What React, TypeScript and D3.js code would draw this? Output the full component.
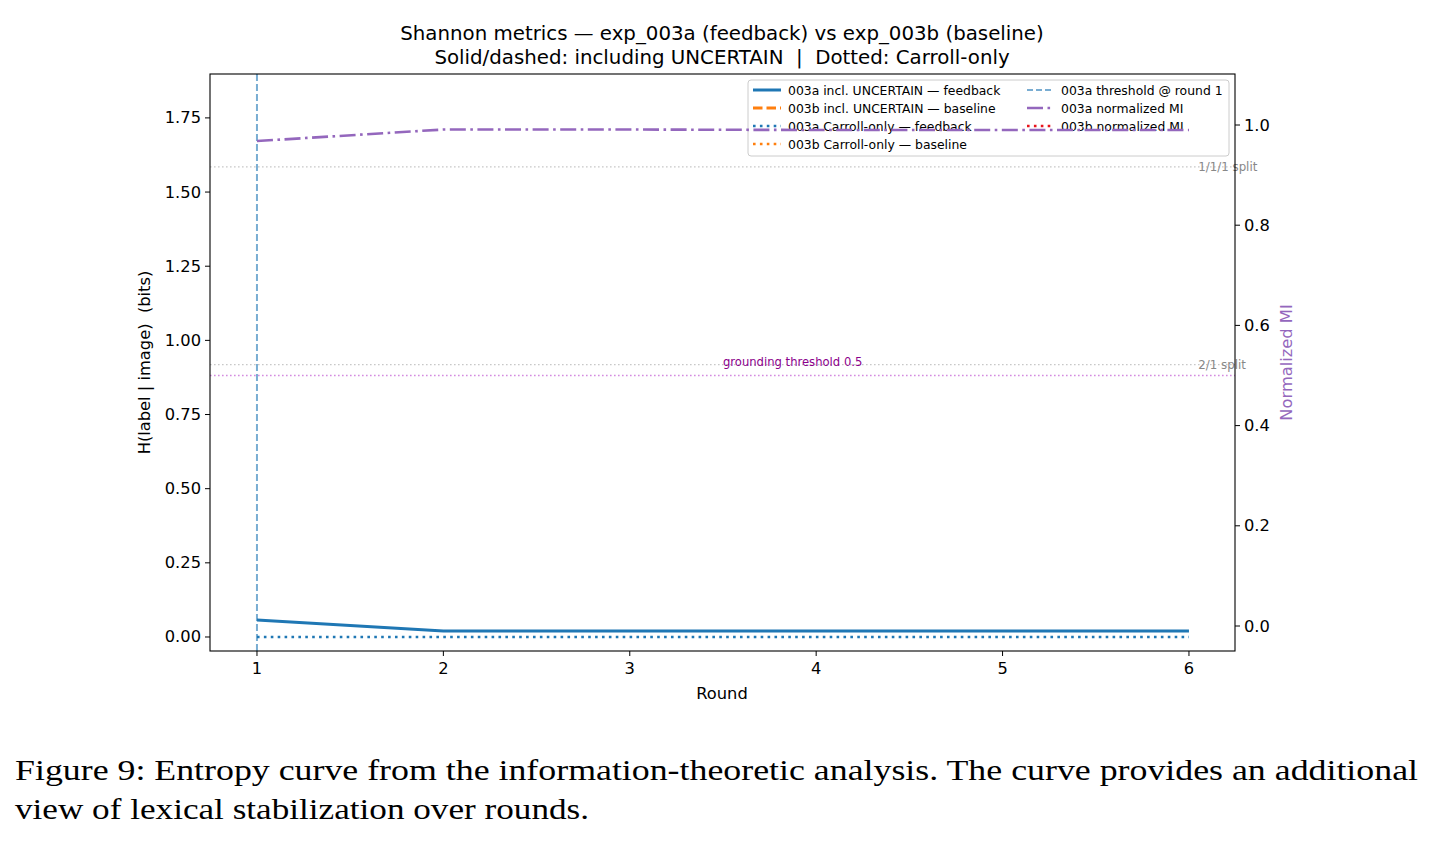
import React from "react";
import * as d3 from "d3";

// Rounds and per-round Shannon metrics
const rounds = [1, 2, 3, 4, 5, 6];
const entropyInclA = [0.057, 0.02, 0.02, 0.02, 0.02, 0.02];
const entropyCarrollA = [0, 0, 0, 0, 0, 0];
const normMiA = [0.968, 0.991, 0.991, 0.99, 0.99, 0.99];

const leftTicks = [0, 0.25, 0.5, 0.75, 1.0, 1.25, 1.5, 1.75];
const rightTicks = [0, 0.2, 0.4, 0.6, 0.8, 1.0];

const refLines = [
  { value: Math.log2(3), label: "1/1/1 split" },
  { value: -(2 / 3) * Math.log2(2 / 3) - (1 / 3) * Math.log2(1 / 3), label: "2/1 split" },
];
const groundingThreshold = 0.5;
const thresholdRound = 1;

const DOT = "2.6,4.3";
const DASHDOT = "16,4.5,2.6,4.5";

const legendLeft = [
  { label: "003a incl. UNCERTAIN — feedback", color: "#1f77b4", dash: "", width: 3 },
  { label: "003b incl. UNCERTAIN — baseline", color: "#ff7f0e", dash: "9.5,4", width: 3 },
  { label: "003a Carroll-only — feedback", color: "#1f77b4", dash: DOT, width: 2.6 },
  { label: "003b Carroll-only — baseline", color: "#ff7f0e", dash: DOT, width: 2.6 },
];
const legendRight = [
  { label: "003a threshold @ round 1", color: "#1f77b4", dash: "6,3", width: 2, opacity: 0.6 },
  { label: "003a normalized MI", color: "#9467bd", dash: DASHDOT, width: 2.6 },
  { label: "003b normalized MI", color: "#e8141c", dash: DOT, width: 2.6 },
];

const FONT = "DejaVu Sans, sans-serif";
const PRE = { whiteSpace: "pre" as const };

export default function App() {
  const W = 1435;
  const H = 842;
  const m = { left: 210, right: 1235, top: 74, bottom: 651 };

  const x = d3.scaleLinear().domain([0.748, 6.247]).range([m.left, m.right]);
  const yL = d3.scaleLinear().domain([-0.0472, 1.898]).range([m.bottom, m.top]);
  const yR = d3.scaleLinear().domain([-0.0499, 1.1018]).range([m.bottom, m.top]);

  const lineL = d3
    .line<number>()
    .x((_, i) => x(rounds[i]))
    .y((d) => yL(d));
  const lineR = d3
    .line<number>()
    .x((_, i) => x(rounds[i]))
    .y((d) => yR(d));

  const legX = 748;
  const legY = 80;

  return (
    <svg width={W} height={H} style={{ position: "absolute", left: 0, top: 0, background: "#fff" }}>
      <rect width={W} height={H} fill="#fff" />
      {/* title */}
      <text x={722} y={40} textAnchor="middle" fontFamily={FONT} fontSize={19.8} fill="#000" style={PRE}>
        Shannon metrics — exp_003a (feedback) vs exp_003b (baseline)
      </text>
      <text x={722} y={64} textAnchor="middle" fontFamily={FONT} fontSize={19.8} fill="#000" style={PRE}>
        {"Solid/dashed: including UNCERTAIN  |  Dotted: Carroll-only"}
      </text>

      {/* reference lines */}
      {refLines.map((r) => (
        <g key={r.label}>
          <line
            x1={m.left}
            x2={m.right}
            y1={yL(r.value)}
            y2={yL(r.value)}
            stroke="#c8c8c8"
            strokeWidth={1.3}
            strokeDasharray="1.6,2.4"
          />
          <text
            x={x(6.05)}
            y={yL(r.value) + 4}
            fontFamily={FONT}
            fontSize={11.8}
            fill="#888"
          >
            {r.label}
          </text>
        </g>
      ))}
      <line
        x1={m.left}
        x2={m.right}
        y1={yR(groundingThreshold)}
        y2={yR(groundingThreshold)}
        stroke="#d48be0"
        strokeWidth={1.3}
        strokeDasharray="1.6,2.4"
      />
      <text x={x(3.5)} y={yR(groundingThreshold) - 10} fontFamily={FONT} fontSize={11.6} fill="#8b008b">
        grounding threshold {groundingThreshold}
      </text>

      {/* threshold round */}
      <line
        x1={x(thresholdRound)}
        x2={x(thresholdRound)}
        y1={m.top}
        y2={m.bottom}
        stroke="#1f77b4"
        strokeOpacity={0.6}
        strokeWidth={2}
        strokeDasharray="7,3"
      />

      {/* entropy series */}
      <path d={lineL(entropyInclA) ?? ""} fill="none" stroke="#1f77b4" strokeWidth={3} />
      <path
        d={lineL(entropyCarrollA) ?? ""}
        fill="none"
        stroke="#1f77b4"
        strokeWidth={2.6}
        strokeDasharray={DOT}
      />

      {/* legend */}
      <rect
        x={legX}
        y={legY}
        width={481}
        height={76}
        rx={3}
        fill="#fff"
        fillOpacity={0.8}
        stroke="#ccc"
        strokeWidth={1}
      />
      {legendLeft.map((e, i) => (
        <g key={e.label}>
          <line
            x1={legX + 5}
            x2={legX + 33}
            y1={legY + 10 + i * 18}
            y2={legY + 10 + i * 18}
            stroke={e.color}
            strokeWidth={e.width}
            strokeDasharray={e.dash}
          />
          <text x={legX + 40} y={legY + 14.5 + i * 18} fontFamily={FONT} fontSize={12.4}>
            {e.label}
          </text>
        </g>
      ))}
      {legendRight.map((e, i) => (
        <g key={e.label}>
          <line
            x1={legX + 279}
            x2={legX + 306}
            y1={legY + 10 + i * 18}
            y2={legY + 10 + i * 18}
            stroke={e.color}
            strokeOpacity={e.opacity ?? 1}
            strokeWidth={e.width}
            strokeDasharray={e.dash}
          />
          <text x={legX + 313} y={legY + 14.5 + i * 18} fontFamily={FONT} fontSize={12.4}>
            {e.label}
          </text>
        </g>
      ))}

      {/* normalized MI on the twin axis, drawn above the legend */}
      <path
        d={lineR(normMiA) ?? ""}
        fill="none"
        stroke="#9467bd"
        strokeWidth={2.6}
        strokeDasharray={DASHDOT}
      />

      {/* axes frame */}
      <rect
        x={m.left}
        y={m.top}
        width={m.right - m.left}
        height={m.bottom - m.top}
        fill="none"
        stroke="#000"
        strokeWidth={1.1}
      />

      {/* x ticks */}
      {rounds.map((r) => (
        <g key={r}>
          <line x1={x(r)} x2={x(r)} y1={m.bottom} y2={m.bottom + 5} stroke="#000" strokeWidth={1} />
          <text x={x(r)} y={m.bottom + 23} textAnchor="middle" fontFamily={FONT} fontSize={16.3}>
            {r}
          </text>
        </g>
      ))}
      <text x={722} y={699} textAnchor="middle" fontFamily={FONT} fontSize={16.3}>
        Round
      </text>

      {/* left ticks */}
      {leftTicks.map((t) => (
        <g key={t}>
          <line x1={m.left - 5} x2={m.left} y1={yL(t)} y2={yL(t)} stroke="#000" strokeWidth={1} />
          <text
            x={m.left - 9}
            y={yL(t) + 5.5}
            textAnchor="end"
            fontFamily={FONT}
            fontSize={16.3}
          >
            {t.toFixed(2)}
          </text>
        </g>
      ))}
      <text
        transform={`translate(150,${(m.top + m.bottom) / 2}) rotate(-90)`}
        textAnchor="middle"
        fontFamily={FONT}
        fontSize={16.3}
        style={PRE}
      >
        {"H(label | image)  (bits)"}
      </text>

      {/* right ticks */}
      {rightTicks.map((t) => (
        <g key={t}>
          <line x1={m.right} x2={m.right + 5} y1={yR(t)} y2={yR(t)} stroke="#000" strokeWidth={1} />
          <text x={m.right + 9} y={yR(t) + 5.5} fontFamily={FONT} fontSize={16.3}>
            {t.toFixed(1)}
          </text>
        </g>
      ))}
      <text
        transform={`translate(1292,${(m.top + m.bottom) / 2}) rotate(-90)`}
        textAnchor="middle"
        fontFamily={FONT}
        fontSize={16.3}
        fill="#9467bd"
      >
        Normalized MI
      </text>

      {/* caption */}
      <text
        x={15}
        y={780}
        fontFamily="Liberation Serif, serif"
        fontSize={30}
        textLength={1403}
        lengthAdjust="spacingAndGlyphs"
      >
        Figure 9: Entropy curve from the information-theoretic analysis. The curve provides an additional
      </text>
      <text
        x={15}
        y={819}
        fontFamily="Liberation Serif, serif"
        fontSize={30}
        textLength={574}
        lengthAdjust="spacingAndGlyphs"
      >
        view of lexical stabilization over rounds.
      </text>
    </svg>
  );
}
